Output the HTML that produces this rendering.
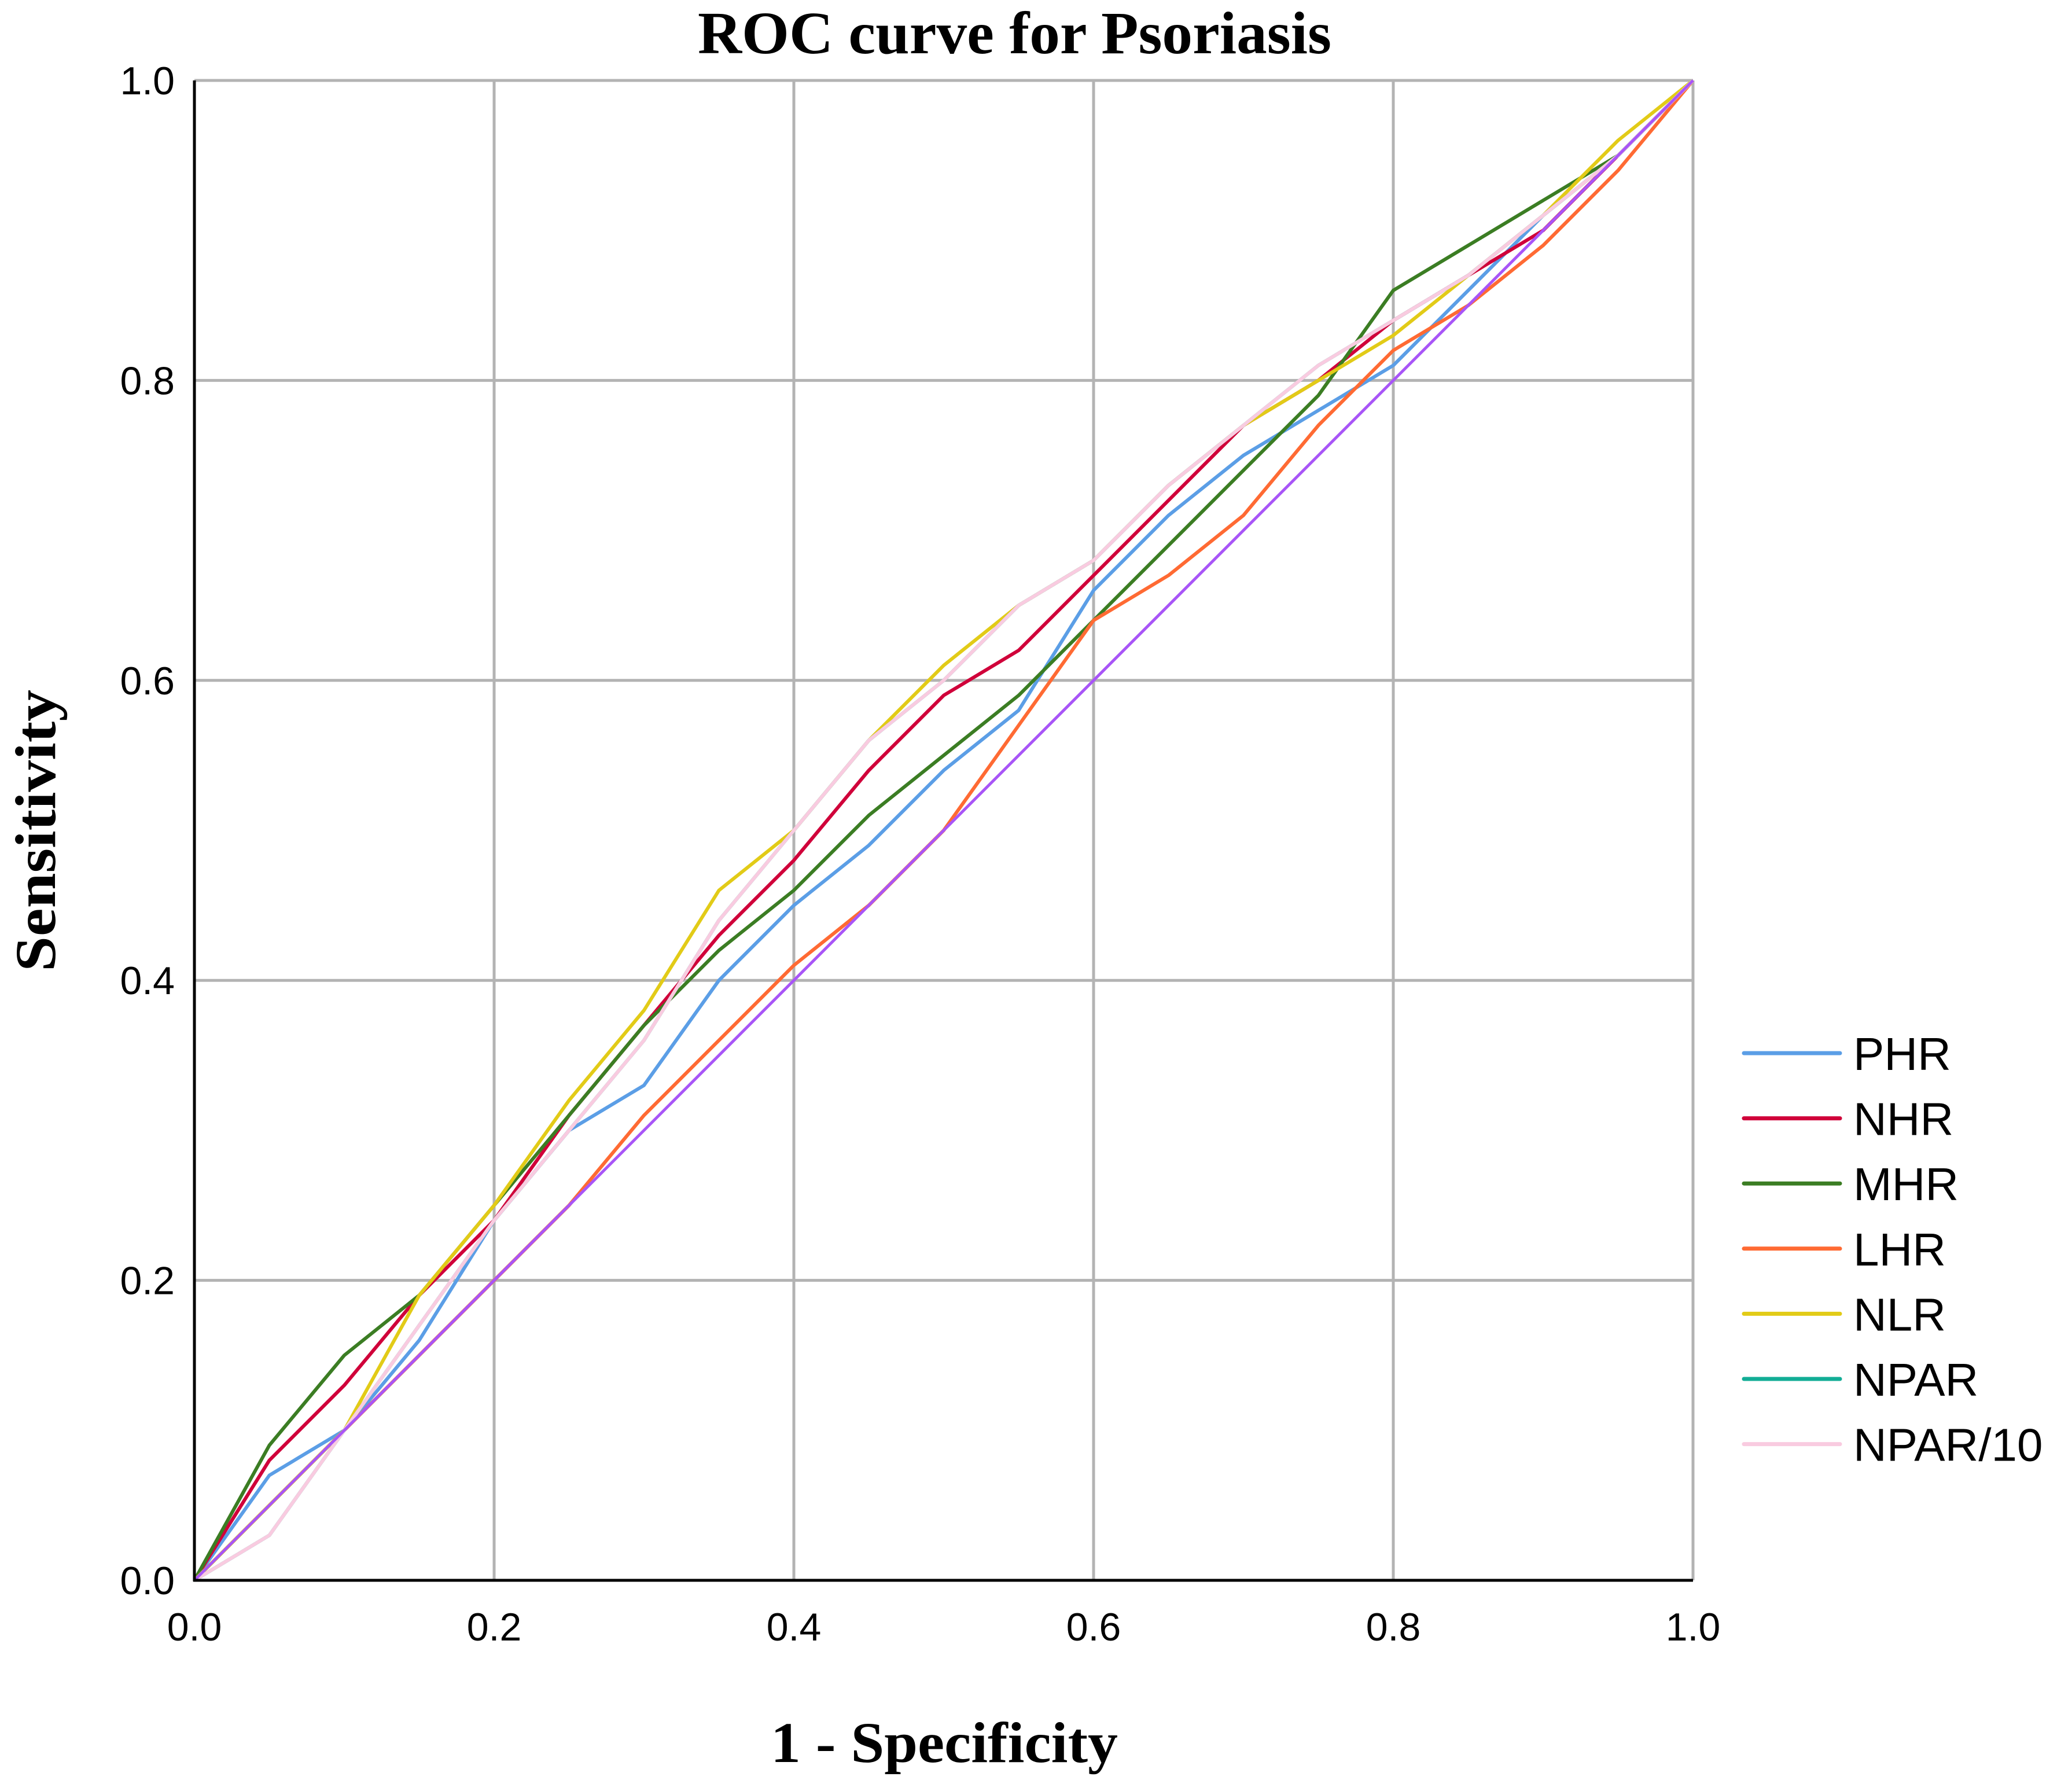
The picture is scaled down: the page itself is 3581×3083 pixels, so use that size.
<!DOCTYPE html>
<html><head><meta charset="utf-8"><style>html,body{margin:0;padding:0;background:#fff}svg{display:block}</style></head>
<body>
<svg id="chart" width="3581" height="3083" viewBox="0 0 3581 3083" xmlns="http://www.w3.org/2000/svg">
<rect width="3581" height="3083" fill="#fff"/>
<text x="1206" y="92" textLength="1095" lengthAdjust="spacingAndGlyphs" font-family="Liberation Serif, serif" font-weight="bold" font-size="104">ROC curve for Psoriasis</text>
<text x="1332" y="3045" textLength="600" lengthAdjust="spacingAndGlyphs" font-family="Liberation Serif, serif" font-weight="bold" font-size="100">1 - Specificity</text>
<text transform="translate(95,1679) rotate(-90)" x="0" y="0" textLength="487" lengthAdjust="spacingAndGlyphs" font-family="Liberation Serif, serif" font-weight="bold" font-size="100">Sensitivity</text>
<g id="grid"></g><g id="series"></g><g id="axes"></g><g id="legend"></g>
</svg>
<script>
const fpr = [0,0.05,0.1,0.15,0.2,0.25,0.3,0.35,0.4,0.45,0.5,0.55,0.6,0.65,0.7,0.75,0.8,0.85,0.9,0.95,1];
const phr = [0,0.07,0.10,0.16,0.24,0.30,0.33,0.40,0.45,0.49,0.54,0.58,0.66,0.71,0.75,0.78,0.81,0.86,0.91,0.95,1];
const nhr = [0,0.08,0.13,0.19,0.24,0.31,0.37,0.43,0.48,0.54,0.59,0.62,0.67,0.72,0.77,0.80,0.84,0.87,0.90,0.95,1];
const mhr = [0,0.09,0.15,0.19,0.25,0.31,0.37,0.42,0.46,0.51,0.55,0.59,0.64,0.69,0.74,0.79,0.86,0.89,0.92,0.95,1];
const lhr = [0,0.05,0.10,0.15,0.20,0.25,0.31,0.36,0.41,0.45,0.50,0.57,0.64,0.67,0.71,0.77,0.82,0.85,0.89,0.94,1];
const nlr = [0,0.05,0.10,0.19,0.25,0.32,0.38,0.46,0.50,0.56,0.61,0.65,0.68,0.73,0.77,0.80,0.83,0.87,0.91,0.96,1];
const npar = [0,0.03,0.10,0.17,0.24,0.30,0.36,0.44,0.50,0.56,0.60,0.65,0.68,0.73,0.77,0.81,0.84,0.87,0.91,0.95,1];
const npar10 = [0,0.03,0.10,0.17,0.24,0.30,0.36,0.44,0.50,0.56,0.60,0.65,0.68,0.73,0.77,0.81,0.84,0.87,0.91,0.95,1];
const refLine = [0,1];
const refX = [0,1];
const ticks = [0,0.2,0.4,0.6,0.8,1.0];
const tickLabels = ["0.0","0.2","0.4","0.6","0.8","1.0"];
const seriesNames = ["PHR","NHR","MHR","LHR","NLR","NPAR","NPAR/10"];

const NS="http://www.w3.org/2000/svg";
const L=336,R=2926,T=139,B=2731;
const sx=v=>L+v*(R-L), sy=v=>B-v*(B-T);
function mk(tag,attrs,parent){const e=document.createElementNS(NS,tag);for(const k in attrs)e.setAttribute(k,attrs[k]);parent.appendChild(e);return e;}
const grid=document.getElementById('grid'),ser=document.getElementById('series'),axes=document.getElementById('axes'),leg=document.getElementById('legend');
ticks.forEach((t,i)=>{
  const v=mk('line',{x1:sx(t),x2:sx(t),y1:T,y2:B,stroke:'#b3b3b3','stroke-width':5},grid);
  
  
  const h=mk('line',{x1:L,x2:R,y1:sy(t),y2:sy(t),stroke:'#b3b3b3','stroke-width':5},grid);
  
  
  const xl=mk('text',{x:sx(t),y:2835,'text-anchor':'middle','font-family':'Liberation Sans, sans-serif','font-size':68},axes);
  xl.textContent=tickLabels[i];
  
  
  const yl=mk('text',{x:302,y:sy(t)+24,'text-anchor':'end','font-family':'Liberation Sans, sans-serif','font-size':68},axes);
  yl.textContent=tickLabels[i];
  
  
});
const xa=mk('line',{x1:L-2,x2:R,y1:B,y2:B,stroke:'#000','stroke-width':5},axes);


const ya=mk('line',{x1:L,x2:L,y1:T,y2:B+2,stroke:'#000','stroke-width':5},axes);


const defs=[["PHR",phr,"#5b9ee6"],["NHR",nhr,"#d0003a"],["MHR",mhr,"#3b7d23"],["LHR",lhr,"#ff6a33"],["NLR",nlr,"#e2cb17"],["NPAR",npar,"#12ad96"],["NPAR/10",npar10,"#f9cbe0"]];
defs.forEach(d=>{
  const pts=fpr.map((x,i)=>sx(x)+','+sy(d[1][i])).join(' ');
  const p=mk('polyline',{points:pts,fill:'none',stroke:d[2],'stroke-width':6,'stroke-linejoin':'round'},ser);
  
  
});
const diag=mk('polyline',{points:refX.map((x,i)=>sx(x)+','+sy(refLine[i])).join(' '),fill:'none',stroke:'#a855f7','stroke-width':5},ser);


defs.forEach((d,i)=>{
  const y=1820+i*112.6;
  const g=mk('g',{},leg);
  
  
  mk('line',{x1:3014,x2:3180,y1:y,y2:y,stroke:d[2],'stroke-width':7,'stroke-linecap':'round'},g);
  const t=mk('text',{x:3203,y:y+29,'font-family':'Liberation Sans, sans-serif','font-size':80},g);
  t.textContent=seriesNames[i];
});
</script>
</body></html>
